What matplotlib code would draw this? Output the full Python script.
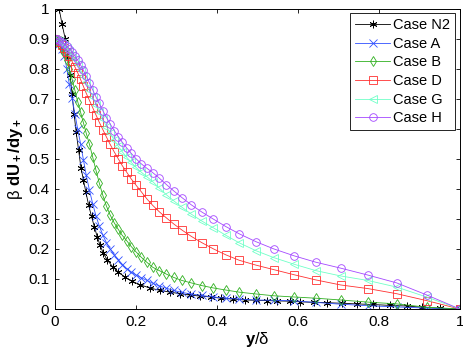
import numpy as np
import matplotlib
matplotlib.use('Agg')
import matplotlib.pyplot as plt
from matplotlib.ticker import FormatStrFormatter

plt.rcParams['font.family'] = ['Liberation Sans', 'DejaVu Sans']
plt.rcParams['mathtext.fontset'] = 'custom'
plt.rcParams['mathtext.rm'] = 'Liberation Sans'
plt.rcParams['mathtext.bf'] = 'Liberation Sans:bold'
plt.rcParams['mathtext.it'] = 'Liberation Sans:italic'

# Data
# shared wall-normal grid of cases A-H
y_grid = [0.0, 0.006, 0.012, 0.018, 0.024, 0.030, 0.036, 0.043, 0.050, 0.057,
          0.064, 0.071, 0.078, 0.086, 0.094, 0.102, 0.110, 0.119, 0.128, 0.137,
          0.147, 0.157, 0.167, 0.178, 0.189, 0.201, 0.214, 0.228, 0.242, 0.258,
          0.276, 0.294, 0.314, 0.337, 0.363, 0.392, 0.423, 0.456, 0.497, 0.541,
          0.591, 0.644, 0.706, 0.773, 0.844, 0.918, 1.0]

case_a = [0.9, 0.893, 0.882, 0.866, 0.843, 0.800, 0.750, 0.702, 0.650, 0.598,
          0.550, 0.497, 0.445, 0.395, 0.350, 0.310, 0.277, 0.246, 0.220, 0.200,
          0.181, 0.164, 0.148, 0.134, 0.123, 0.113, 0.104, 0.095, 0.086, 0.077,
          0.069, 0.062, 0.055, 0.050, 0.045, 0.040, 0.036, 0.033, 0.030, 0.029,
          0.027, 0.022, 0.016, 0.011, 0.007, 0.003, 0.0]

case_b = [0.9, 0.893, 0.883, 0.870, 0.853, 0.830, 0.800, 0.765, 0.728, 0.690,
          0.655, 0.620, 0.585, 0.548, 0.505, 0.462, 0.420, 0.378, 0.342, 0.313,
          0.287, 0.265, 0.245, 0.227, 0.208, 0.190, 0.172, 0.155, 0.139, 0.128,
          0.116, 0.105, 0.095, 0.087, 0.078, 0.070, 0.063, 0.056, 0.050, 0.044,
          0.040, 0.036, 0.030, 0.023, 0.017, 0.006, 0.0]

case_d = [0.9, 0.894, 0.887, 0.878, 0.867, 0.855, 0.841, 0.824, 0.806, 0.786,
          0.764, 0.741, 0.718, 0.694, 0.670, 0.646, 0.622, 0.597, 0.572, 0.548,
          0.523, 0.500, 0.477, 0.455, 0.433, 0.412, 0.390, 0.366, 0.345, 0.324,
          0.303, 0.283, 0.263, 0.242, 0.221, 0.200, 0.180, 0.162, 0.146, 0.131,
          0.114, 0.097, 0.080, 0.068, 0.051, 0.028, 0.0]

case_g = [0.9, 0.896, 0.891, 0.885, 0.877, 0.868, 0.858, 0.845, 0.831, 0.814,
          0.796, 0.776, 0.755, 0.730, 0.705, 0.680, 0.656, 0.631, 0.607, 0.585,
          0.562, 0.542, 0.523, 0.505, 0.488, 0.471, 0.455, 0.440, 0.424, 0.403,
          0.380, 0.360, 0.339, 0.316, 0.293, 0.270, 0.245, 0.220, 0.194, 0.171,
          0.149, 0.128, 0.110, 0.095, 0.073, 0.040, 0.0]

case_h = [0.9, 0.897, 0.893, 0.888, 0.882, 0.874, 0.866, 0.855, 0.843, 0.828,
          0.812, 0.794, 0.775, 0.752, 0.729, 0.706, 0.684, 0.660, 0.637, 0.616,
          0.594, 0.574, 0.555, 0.536, 0.518, 0.500, 0.483, 0.468, 0.454, 0.436,
          0.414, 0.393, 0.371, 0.347, 0.323, 0.299, 0.274, 0.250, 0.224, 0.200,
          0.177, 0.156, 0.136, 0.113, 0.087, 0.047, 0.0]

# case N2 has its own grid
y_n2 = [0.0, 0.004, 0.011, 0.018, 0.026, 0.033, 0.038, 0.043, 0.048, 0.053,
        0.059, 0.065, 0.071, 0.077, 0.084, 0.091, 0.098, 0.105, 0.112, 0.120,
        0.130, 0.143, 0.157, 0.174, 0.190, 0.210, 0.235, 0.260, 0.285, 0.310,
        0.335, 0.360, 0.385, 0.410, 0.440, 0.470, 0.497, 0.523, 0.550, 0.580,
        0.606, 0.639, 0.673, 0.710, 0.746, 0.785, 0.828, 0.869, 0.906, 0.951, 1.0]
case_n2 = [1.08, 1.04, 1.0, 0.95, 0.90, 0.84, 0.78, 0.715, 0.65, 0.59,
           0.53, 0.47, 0.43, 0.39, 0.345, 0.308, 0.274, 0.241, 0.213, 0.186,
           0.163, 0.141, 0.123, 0.106, 0.093, 0.081, 0.070, 0.062, 0.056, 0.051,
           0.046, 0.043, 0.040, 0.036, 0.033, 0.030, 0.029, 0.028, 0.027, 0.026,
           0.024, 0.022, 0.021, 0.019, 0.017, 0.015, 0.012, 0.010, 0.006, 0.002, 0.0]

labels = ['Case N2', 'Case A', 'Case B', 'Case D', 'Case G', 'Case H']
colors = ['#000000', '#3050ff', '#30b020', '#ff3030', '#70ffc8', '#a448ff']
markers = [(6, 2, 0), 'x', 'd', 's', '<', 'o']

fig = plt.figure(figsize=(4.63, 3.49), dpi=100)
ax = fig.add_axes([0.118, 0.1146, 0.875, 0.861])

series = [(y_n2, case_n2), (y_grid, case_a), (y_grid, case_b),
          (y_grid, case_d), (y_grid, case_g), (y_grid, case_h)]
for (xx, yy), lab, c, m in zip(series, labels, colors, markers):
    ax.plot(xx, yy, color=c, lw=0.6, marker=m, ms=5.5, mew=0.6,
            mfc='none', mec=c, label=lab)

ax.set_xlim(0, 1)
ax.set_ylim(0, 1)
ax.set_xticks(np.arange(0, 1.01, 0.2))
ax.set_yticks(np.arange(0, 1.01, 0.1))
ax.xaxis.set_major_formatter(FormatStrFormatter('%g'))
ax.yaxis.set_major_formatter(FormatStrFormatter('%g'))
ax.tick_params(direction='in', top=True, right=True, labelsize=11,
               length=3, width=0.6, pad=4)
for sp in ax.spines.values():
    sp.set_linewidth(0.7)

ax.set_xlabel(r'$\mathbf{y}$/δ', fontsize=12, labelpad=1)
ax.set_ylabel(r'β $\mathbf{dU_+/dy_+}$', fontsize=12, labelpad=2)

leg = ax.legend(loc='upper right', fontsize=10.5, fancybox=False, framealpha=1,
                edgecolor='black', borderpad=0.35, labelspacing=0.32,
                handlelength=2.4, handletextpad=0.2, borderaxespad=0.3)
leg.get_frame().set_linewidth(0.6)

fig.savefig('out.png', dpi=100)
